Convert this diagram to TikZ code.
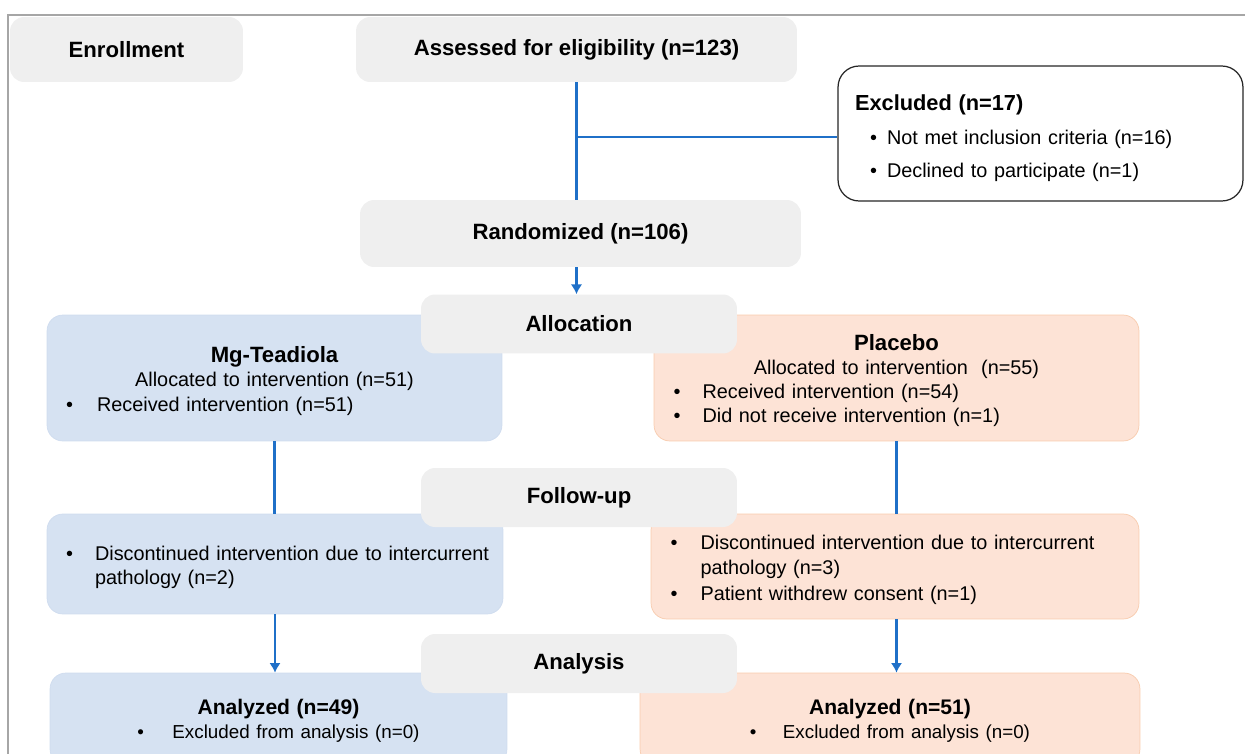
\documentclass[tikz,border=0pt]{standalone}
\usepackage{fontspec}
\setmainfont{Liberation Sans}
\usetikzlibrary{arrows.meta}
\definecolor{stagegray}{HTML}{EFEFEF}
\definecolor{armblue}{HTML}{D6E2F2}
\definecolor{armblueline}{HTML}{CFDCEF}
\definecolor{armpeach}{HTML}{FDE3D6}
\definecolor{armpeachline}{HTML}{F8CBAD}
\definecolor{flowblue}{HTML}{1F70C8}
\definecolor{framegray}{HTML}{A6A6A6}
\newcommand{\hd}{\fontsize{12.6}{15}\selectfont\bfseries}
\newcommand{\hdsm}{\fontsize{12}{14.5}\selectfont\bfseries}
\newcommand{\tx}{\fontsize{11.3}{13.8}\selectfont}
\newcommand{\itm}[2][0.6cm]{\par\noindent\makebox[#1][l]{\textbullet}\begin{tabular}[t]{@{}l@{}}#2\end{tabular}\par}
\tikzstyle{line} = [draw, flowblue, line width=1.6pt]
\tikzstyle{arrow} = [line, -{Latex[length=5.5pt,width=6.5pt]}]
\tikzstyle{stage} = [fill=stagegray, rounded corners=8pt, minimum width=6.32cm, minimum height=1.18cm, font=\hd]
\tikzstyle{mgbox} = [draw=armblueline, fill=armblue, rounded corners=9pt, inner xsep=0.38cm, inner ysep=0pt, font=\tx]
\tikzstyle{plbox} = [draw=armpeachline, fill=armpeach, rounded corners=9pt, inner xsep=0.39cm, inner ysep=0pt, font=\tx]
\tikzstyle{exbox} = [draw=black!85, line width=0.7pt, rounded corners=12pt, fill=white, inner xsep=0.34cm, inner ysep=0pt, font=\tx]

\begin{document}
\begin{tikzpicture}[x=0.02cm, y=-0.02cm]
    \useasboundingbox (0,0) rectangle (1245,754);
    \draw [framegray, line width=1.1pt] (8,754) -- (8,15) -- (1245,15);
    % enrollment
    \node [stage, minimum width=4.66cm, minimum height=1.3cm] (enroll) at (126.5,49.5) {Enrollment};
    \node [stage, minimum width=8.82cm, minimum height=1.3cm] (assess) at (576.5,49.5) {Assessed\ for eligibility\ (n=123)};
    \node [exbox, text width=7.42cm, minimum height=2.7cm] (excl) at (1040.5,133.5) {%
        \noindent{\fontsize{12.4}{15}\selectfont\bfseries Excluded\ (n=17)}\par\vspace{5.5pt}
        \noindent\hspace*{0.3cm}\makebox[0.34cm][l]{\textbullet}Not met inclusion criteria (n=16)\par\vspace{5pt}
        \noindent\hspace*{0.3cm}\makebox[0.34cm][l]{\textbullet}Declined to participate (n=1)\par\kern-0.2cm};
    \node [stage, minimum width=8.82cm, minimum height=1.34cm] (rand) at (580.5,233.5) {Randomized (n=106)};
    % arms
    \node [mgbox, text width=8.34cm, minimum height=2.52cm] (mgA) at (274.5,378) {%
        {\centering\hd Mg-Teadiola\par}
        {\centering Allocated to intervention (n=51)\par}
        \itm[0.62cm]{Received intervention (n=51)}\kern-0.18cm};
    \node [plbox, text width=8.92cm, minimum height=2.52cm] (plA) at (896.5,378) {%
        {\centering\hd Placebo\par}
        {\centering Allocated to intervention\ \ (n=55)\par}
        \itm[0.58cm]{Received intervention (n=54)}
        \itm[0.58cm]{Did not receive intervention (n=1)}\kern-0.16cm};
    \node [mgbox, text width=8.36cm, minimum height=2.0cm] (mgF) at (275,564) {%
        \itm[0.58cm]{Discontinued intervention due to intercurrent\\pathology (n=2)}};
    \node [plbox, text width=8.98cm, minimum height=2.1cm] (plF) at (895,566.5) {%
        \itm[0.6cm]{Discontinued intervention due to intercurrent\\pathology (n=3)}
        \itm[0.6cm]{Patient withdrew consent (n=1)}};
    \node [mgbox, text width=8.38cm, minimum height=1.84cm] (mgZ) at (278.5,719) {%
        {\centering\hdsm Analyzed (n=49)\par}
        {\centering\fontsize{10.7}{13.8}\selectfont\makebox[0.7cm][l]{\textbullet}Excluded from analysis (n=0)\par}\kern-0.08cm};
    \node [plbox, text width=9.22cm, minimum height=1.84cm] (plZ) at (890,719) {%
        {\centering\hdsm Analyzed (n=51)\par}
        {\centering\fontsize{10.7}{13.8}\selectfont\makebox[0.66cm][l]{\textbullet}Excluded from analysis (n=0)\par}\kern-0.08cm};
    % stages
    \node [stage] (alloc) at (579,324) {Allocation};
    \node [stage] (follow) at (579,497.5) {Follow-up};
    \node [stage] (analysis) at (579,663.5) {Analysis};
    % connectors
    \coordinate (split) at (assess.south |- 0,137);
    \path [line] (assess.south) -- (assess.south |- rand.north);
    \path [line] (split) -- (split -| excl.west);
    \path [arrow] (rand.south -| assess.south) -- (alloc.north -| assess.south);
    \path [line] (mgA.south) -- (mgA.south |- mgF.north);
    \path [line] (plA.south) -- (plA.south |- plF.north);
    \path [arrow] (mgF.south) -- (mgF.south |- mgZ.north);
    \path [arrow] (plF.south -| plA.south) -- (plZ.north -| plA.south);
\end{tikzpicture}
\end{document}
